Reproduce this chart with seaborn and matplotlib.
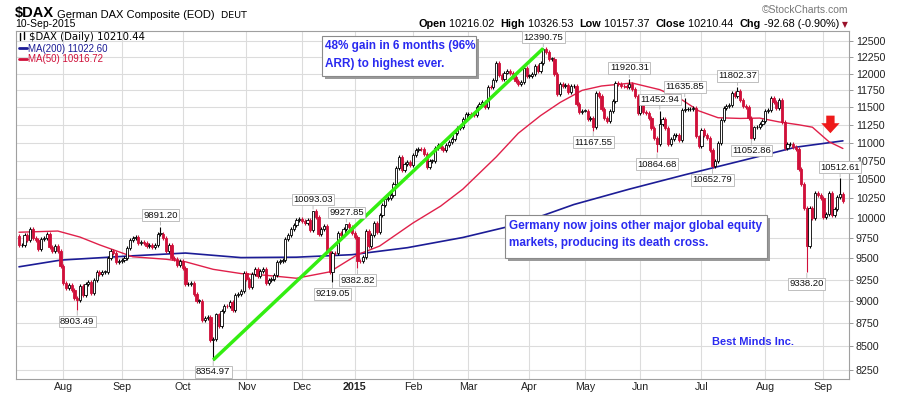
import numpy as np
import matplotlib
matplotlib.use("Agg")
import matplotlib.pyplot as plt
import matplotlib.ticker as mticker
from matplotlib.patches import Rectangle
from matplotlib.lines import Line2D
import seaborn as sns

# daily closes, 10-Jul-2014 .. 10-Sep-2015 (one list per month, trading days)
jul14 = [9659, 9666, 9783, 9719, 9859, 9753, 9720, 9612, 9734, 9753, 9794, 9644, 9593, 9653, 9593, 9407]
aug14 = [9210, 9154, 9189, 9130, 9039, 9010, 9180, 9070, 9199, 9226, 9092, 9245, 9334, 9314, 9339, 9339,
         9510, 9588, 9569, 9462, 9470]
sep14 = [9479, 9507, 9626, 9724, 9747, 9758, 9686, 9700, 9691, 9651, 9660, 9633, 9661, 9799, 9799, 9750,
         9595, 9661, 9510, 9490, 9422, 9474]
oct14 = [9382, 9195, 9195, 9209, 9086, 9005, 9005, 8788, 8812, 8825, 8572, 8582, 8850, 8717, 8887, 8941,
         8940, 8987, 8902, 9068, 9082, 9114, 9326]
nov14 = [9252, 9166, 9315, 9377, 9291, 9351, 9369, 9210, 9249, 9252, 9306, 9456, 9472, 9483, 9732, 9785,
         9861, 9915, 9974, 9980]
dec14 = [9963, 9934, 9971, 9851, 10087, 10014, 9799, 9862, 9903, 9594, 9335, 9564, 9563, 9811, 9787, 9865,
         9922, 9890, 9805]
jan15 = [9764, 9473, 9469, 9518, 9837, 9648, 9781, 9941, 9817, 10032, 10167, 10242, 10257, 10299, 10435,
         10649, 10798, 10628, 10710, 10738, 10694]
feb15 = [10828, 10891, 10911, 10905, 10846, 10664, 10752, 10752, 10919, 10963, 10924, 10896, 10962, 11001,
         11050, 11130, 11205, 11211, 11327, 11402]
mar15 = [11409, 11391, 11390, 11504, 11551, 11583, 11500, 11806, 11799, 11901, 12167, 11980, 11923, 12018,
         12040, 12016, 11954, 11889, 11843, 11868, 12086, 11966]
apr15 = [11969, 12002, 12124, 12036, 12166, 12375, 12338, 12227, 12232, 11999, 11689, 11849, 11817, 11837,
         11723, 11811, 11811, 11547, 11432, 11454]
may15 = [11454, 11327, 11350, 11216, 11709, 11673, 11472, 11352, 11300, 11447, 11594, 11853, 11848, 11816,
         11815, 11800, 11840, 11771, 11673, 11413]
jun15 = [11605, 11436, 11419, 11340, 11197, 11064, 10985, 11265, 11333, 11197, 10984, 11044, 11100, 11100,
         11041, 11461, 11471, 11472, 11473, 11492, 11084, 10945]
jul15 = [11181, 11099, 11058, 10890, 10676, 10747, 10996, 11316, 11484, 11516, 11540, 11716, 11673, 11734,
         11604, 11520, 11512, 11347, 11056, 11211, 11212, 11257, 11308]
aug15 = [11444, 11456, 11636, 11585, 11490, 11604, 11293, 10925, 10975, 10985, 10940, 10915, 10636, 10432,
         10124, 9648, 10128, 9997, 10315, 10298, 10259]
sep15 = [10016, 10048, 10318, 10038, 10108, 10271, 10303, 10210.44]
first_open = 9770

# labelled intraday extremes (trading day index -> value)
label_highs = {51: 9891.20, 106: 10093.03, 118: 9927.85, 189: 12390.75, 220: 11920.31,
               231: 11452.94, 240: 11635.85, 259: 11802.37, 296: 10512.61}
label_lows = {21: 8903.49, 70: 8354.97, 113: 9219.05, 122: 9382.82, 207: 11167.55,
              230: 10864.68, 250: 10652.79, 264: 11052.86, 284: 9338.20}

# moving averages (trading day index, value)
ma200_idx = [0, 15, 40, 60, 80, 100, 120, 140, 160, 180, 200, 220, 240, 260, 280, 297]
ma200_val = [9400, 9480, 9530, 9565, 9510, 9515, 9545, 9630, 9755, 9920, 10170, 10370, 10560, 10745, 10935, 11023]
ma50_idx = [0, 14, 22, 29, 41, 53, 60, 70, 80, 89, 100, 112, 122, 130, 142, 152, 160, 172, 180, 188, 195,
            203, 210, 221, 231, 239, 245, 252, 260, 267, 274, 281, 286, 292, 297]
ma50_val = [9820, 9835, 9760, 9665, 9520, 9490, 9460, 9370, 9320, 9300, 9265, 9340, 9545, 9650, 9935,
            10150, 10370, 10800, 11130, 11380, 11570, 11750, 11815, 11860, 11760, 11610, 11450, 11350,
            11340, 11345, 11290, 11250, 11215, 11010, 10917]

month_idx = [16, 37, 59, 82, 102, 121, 142, 162, 184, 204, 224, 246, 269, 290]
month_lbl = ['Aug', 'Sep', 'Oct', 'Nov', 'Dec', '2015', 'Feb', 'Mar', 'Apr', 'May', 'Jun', 'Jul', 'Aug', 'Sep']
yticks = list(range(8250, 12501, 250))

W, H = 897, 395
RED = '#d0103a'
BLUE_TXT = '#2a2af0'


def fx(x):
    return x / W


def fy(y):
    return 1 - y / H


sns.set_theme(style="white")
plt.rcParams['font.family'] = ['Liberation Sans', 'DejaVu Sans']

fig = plt.figure(figsize=(W / 100, H / 100), dpi=100)
ax = fig.add_axes([fx(16), fy(379), fx(849) - fx(16), fy(31) - fy(379)])

closes = np.array(jul14 + aug14 + sep14 + oct14 + nov14 + dec14 + jan15 + feb15 + mar15 + apr15
                  + may15 + jun15 + jul15 + aug15 + sep15, dtype=float)
n = len(closes)
idx = np.arange(n)
opens = np.r_[first_open, closes[:-1]]
up = closes >= opens
highs = np.maximum(opens, closes) * 1.0025
lows = np.minimum(opens, closes) * 0.9975
for k, v in label_highs.items():
    highs[k] = v
for k, v in label_lows.items():
    lows[k] = v

ax.set_yscale('log')

# moving averages
sns.lineplot(x=ma200_idx, y=ma200_val, ax=ax, color='#1c1c96', lw=1.2, zorder=2)
sns.lineplot(x=ma50_idx, y=ma50_val, ax=ax, color='#e0204a', lw=1.0, zorder=2)

# candles
edge = np.where(up, 'black', RED)
ax.vlines(idx, lows, highs, colors=edge, lw=0.8, zorder=3)
body_lo = np.minimum(opens, closes)
body_h = np.maximum(np.abs(closes - opens), closes * 0.0006)
ax.bar(idx, body_h, bottom=body_lo, width=0.8, color=np.where(up, 'white', RED),
       edgecolor=edge, linewidth=0.6, zorder=4)

# trend line from Oct low to April high
ax.plot([70, 189], [label_lows[70], label_highs[189]], color='#33ee11', lw=2.5, zorder=5,
        solid_capstyle='butt')

# red arrow at death cross
ax.annotate('', xy=(292.5, 11130), xytext=(292.5, 11380),
            arrowprops=dict(arrowstyle='simple,head_width=1.1,head_length=0.6,tail_width=0.5',
                            color='#ee1a1a', lw=0, shrinkA=0, shrinkB=0), zorder=6)


def tag(i, v, above):
    off = 8 if above else -8.5
    ax.annotate(f'{v:.2f}', xy=(i, v), xytext=(0, off), textcoords='offset points',
                ha='center', va='center', fontsize=6.8, color='#111111',
                bbox=dict(boxstyle='square,pad=0.15', fc='white', ec='#b4b4b4', lw=0.6),
                arrowprops=dict(arrowstyle='-', color='#b4b4b4', lw=0.6, shrinkA=0, shrinkB=1),
                zorder=7)


for k, v in label_highs.items():
    tag(k, v, True)
for k, v in label_lows.items():
    tag(k, v, False)

ax.set_xlim(-1.08, 299.2)
ax.set_ylim(8156.6, 12665.7)
ax.yaxis.tick_right()
ax.yaxis.set_major_locator(mticker.FixedLocator(yticks))
ax.yaxis.set_major_formatter(mticker.FuncFormatter(lambda v, p: f'{int(round(v))}'))
ax.yaxis.set_minor_locator(mticker.NullLocator())
ax.set_xticks(month_idx)
ax.set_xticklabels(month_lbl)
for t in ax.get_xticklabels():
    if t.get_text() == '2015':
        t.set_fontweight('bold')
ax.tick_params(axis='y', right=True, length=3, width=0.6, color='#888888', labelsize=7.7,
               pad=2, labelcolor='#222222')
ax.tick_params(axis='x', bottom=False, length=0, labelsize=7.7, pad=2, labelcolor='#222222')
ax.grid(True, color='#dcdcdc', lw=0.8, zorder=0)
ax.set_axisbelow(True)
for s in ax.spines.values():
    s.set_color('#a0a0a0')
    s.set_linewidth(0.8)

# header
t = fig.text(fx(15), fy(17), '$DAX', fontsize=10.5, fontweight='bold', color='black', va='baseline')
t = ax.annotate(' German DAX Composite (EOD)', xy=(1, 0), xycoords=t, va='bottom', ha='left',
                fontsize=8, color='black', annotation_clip=False)
ax.annotate('  DEUT', xy=(1, 0), xycoords=t, va='bottom', ha='left', fontsize=6.8,
            family=['DejaVu Sans'], color='black', annotation_clip=False)
fig.text(fx(15), fy(27), '10-Sep-2015', fontsize=7.5, color='black', va='baseline')
fig.text(fx(848), fy(13), '\u00a9StockCharts.com', fontsize=7.5, color='#777777', ha='right',
         va='baseline')

parts = [('Open', 'bold'), (' 10216.02  ', 'normal'), ('High', 'bold'), (' 10326.53  ', 'normal'),
         ('Low', 'bold'), (' 10157.37  ', 'normal'), ('Close', 'bold'), (' 10210.44  ', 'normal'),
         ('Chg', 'bold'), (' -92.68 (-0.90%) ', 'normal')]
prev = fig.text(fx(848), fy(27), '\u25bc', fontsize=5.5, color='#99112a', ha='right',
                va='baseline', family=['DejaVu Sans'])
for s, w in reversed(parts):
    prev = ax.annotate(s, xy=(0, 0), xycoords=prev, ha='right', va='bottom', fontsize=7.8,
                       fontweight=w, color='black', annotation_clip=False)

# legend inside plot
fig.add_artist(Line2D([fx(20), fx(20)], [fy(33), fy(40)], color='black', lw=1.0))
fig.add_artist(Line2D([fx(24), fx(24)], [fy(32), fy(39)], color='black', lw=1.0))
fig.text(fx(29), fy(39.5), '$DAX (Daily) 10210.44', fontsize=7.3, color='black', va='baseline',
         family=['DejaVu Sans'])
fig.add_artist(Line2D([fx(19), fx(27)], [fy(48), fy(48)], color='#1c1c96', lw=2))
fig.text(fx(28), fy(51.5), 'MA(200) 11022.60', fontsize=7, color='#1c1c96', va='baseline')
fig.add_artist(Line2D([fx(19), fx(27)], [fy(59), fy(59)], color=RED, lw=2))
fig.text(fx(28), fy(62.5), 'MA(50) 10916.72', fontsize=7, color=RED, va='baseline')


def note_box(x0, y0, x1, y1, lines, tx, ty, dy):
    fig.add_artist(Rectangle((fx(x0 + 3), fy(y1 + 3)), fx(x1 - x0), (y1 - y0) / H,
                             transform=fig.transFigure, fc='#9a9a9a', ec='none', zorder=8))
    fig.add_artist(Rectangle((fx(x0), fy(y1)), fx(x1 - x0), (y1 - y0) / H,
                             transform=fig.transFigure, fc='white', ec='#8a8a8a', lw=0.8, zorder=9))
    for j, s in enumerate(lines):
        fig.text(fx(tx), fy(ty + j * dy), s, fontsize=8.5, fontweight='bold', color=BLUE_TXT,
                 va='center', ha='left', zorder=10)


note_box(322, 36, 476, 76, ['48% gain in 6 months (96%', 'ARR) to highest ever.'], 325, 46.5, 17)
note_box(505, 215, 767, 258, ['Germany now joins other major global equity',
                              'markets, producing its death cross.'], 509, 226.5, 17)
fig.text(fx(712), fy(342), 'Best Minds Inc.', fontsize=8, fontweight='bold', color=BLUE_TXT,
         va='center', ha='left')

fig.savefig('out.png', dpi=100)
